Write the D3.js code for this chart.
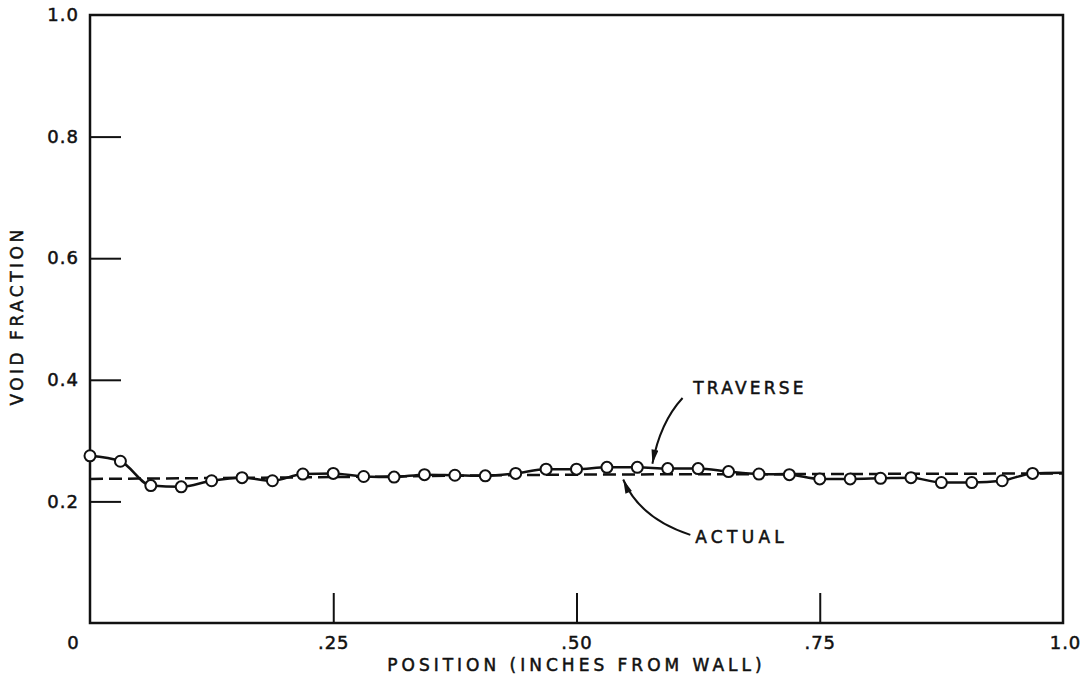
<!DOCTYPE html>
<html>
<head>
<meta charset="utf-8">
<script src="https://cdn.jsdelivr.net/npm/d3@7"></script>
<style>
  body { margin: 0; background: #fff; }
  svg { display: block; }
  .lbl { font-family: "DejaVu Sans", sans-serif; fill: #111; stroke: #111; stroke-width: 0.5; }
</style>
</head>
<body>
<svg id="chart" width="1085" height="690"></svg>
<script>
// Traverse measurements, every 1/32 inch from the wall
const traverseX = d3.range(32).map(i => i / 32);
const traverseY = [0.275, 0.266, 0.226, 0.224, 0.234, 0.239, 0.234, 0.245,
                   0.246, 0.241, 0.240, 0.244, 0.243, 0.242, 0.246, 0.253,
                   0.253, 0.256, 0.256, 0.254, 0.254, 0.249, 0.245, 0.244,
                   0.237, 0.237, 0.238, 0.239, 0.231, 0.231, 0.234, 0.246];
// curve runs on to the far wall without a marker
const traverseEnd = { x: 1.0, y: 0.247 };

// Actual void fraction (dashed)
const actualX = [0, 0.25, 0.5, 0.75, 1.0];
const actualY = [0.237, 0.240, 0.244, 0.245, 0.246];

const xTicks = [0, 0.25, 0.5, 0.75, 1.0];
const xTickLabels = ["0", ".25", ".50", ".75", "1.0"];
const yTicks = [0.2, 0.4, 0.6, 0.8, 1.0];
const yTickLabels = ["0.2", "0.4", "0.6", "0.8", "1.0"];

const config = {
    width: 1085, height: 690,
    margin: { top: 15, right: 22, bottom: 67, left: 90 }
};

const svg = d3.select("#chart");
const width = config.width - config.margin.left - config.margin.right;
const height = config.height - config.margin.top - config.margin.bottom;
const g = svg.append("g")
    .attr("transform", `translate(${config.margin.left},${config.margin.top})`);

const x = d3.scaleLinear().domain([0, 1]).range([0, width]);
const y = d3.scaleLinear().domain([0, 1]).range([height, 0]);

// frame
g.append("rect")
    .attr("width", width).attr("height", height)
    .attr("fill", "none").attr("stroke", "#111").attr("stroke-width", 2.5);

// x axis: inward ticks, labels below
const xAxis = g.append("g")
    .attr("transform", `translate(0,${height})`)
    .call(d3.axisBottom(x).tickValues(xTicks)
        .tickFormat((d, i) => xTickLabels[i])
        .tickSizeInner(-30).tickSizeOuter(0).tickPadding(13));
xAxis.select(".domain").remove();
xAxis.selectAll(".tick line")
    .attr("stroke", "#111").attr("stroke-width", 2)
    .attr("display", d => (d === 0 || d === 1) ? "none" : null);
xAxis.selectAll(".tick text")
    .attr("class", "lbl").attr("font-size", 18).attr("letter-spacing", 1)
    .attr("dx", d => d === 0 ? -17 : (d === 1 ? 2 : 0));

// y axis: inward ticks, labels left
const yAxis = g.append("g")
    .call(d3.axisLeft(y).tickValues(yTicks)
        .tickFormat((d, i) => yTickLabels[i])
        .tickSizeInner(-31).tickSizeOuter(0));
yAxis.select(".domain").remove();
yAxis.selectAll(".tick line")
    .attr("stroke", "#111").attr("stroke-width", 2)
    .attr("display", d => d === 1 ? "none" : null);
yAxis.selectAll(".tick text")
    .attr("class", "lbl").attr("font-size", 18).attr("letter-spacing", 1)
    .attr("x", -11);

// axis titles
g.append("text")
    .attr("class", "lbl")
    .attr("transform", `translate(${-67},${y(0.505)}) rotate(-90)`)
    .attr("text-anchor", "middle")
    .attr("font-size", 17).attr("letter-spacing", 3.5)
    .text("VOID FRACTION");

g.append("text")
    .attr("class", "lbl")
    .attr("x", x(0.5)).attr("y", height + 48)
    .attr("text-anchor", "middle")
    .attr("font-size", 17).attr("letter-spacing", 4)
    .text("POSITION (INCHES FROM WALL)");

// actual (dashed)
const actual = actualX.map((v, i) => ({ x: v, y: actualY[i] }));
g.append("path")
    .datum(actual)
    .attr("fill", "none").attr("stroke", "#111")
    .attr("stroke-width", 2.5).attr("stroke-dasharray", "13,6")
    .attr("d", d3.line().x(d => x(d.x)).y(d => y(d.y)).curve(d3.curveMonotoneX));

// traverse curve
const traverse = traverseX.map((v, i) => ({ x: v, y: traverseY[i] }));
g.append("path")
    .datum([...traverse, traverseEnd])
    .attr("fill", "none").attr("stroke", "#111").attr("stroke-width", 2.5)
    .attr("d", d3.line().x(d => x(d.x)).y(d => y(d.y)).curve(d3.curveMonotoneX));

g.selectAll("circle.pt")
    .data(traverse)
    .join("circle")
    .attr("class", "pt")
    .attr("cx", d => x(d.x)).attr("cy", d => y(d.y))
    .attr("r", 5.5)
    .attr("fill", "#fff").attr("stroke", "#111").attr("stroke-width", 2);

// annotation arrows
svg.append("defs").append("marker")
    .attr("id", "head")
    .attr("viewBox", "0 0 12 6")
    .attr("refX", 12).attr("refY", 3)
    .attr("markerWidth", 15).attr("markerHeight", 7)
    .attr("markerUnits", "userSpaceOnUse")
    .attr("orient", "auto")
    .append("path").attr("d", "M0,0 L12,3 L0,6 Z").attr("fill", "#111");

const annotations = [
    { text: "TRAVERSE", spacing: 3.2, lx: 0.620, ly: 0.387, from: [0.609, 0.370], ctrl: [0.586, 0.330], to: [0.578, 0.262] },
    { text: "ACTUAL",   spacing: 4.3, lx: 0.622, ly: 0.142, from: [0.617, 0.145], ctrl: [0.565, 0.172], to: [0.548, 0.236] }
];

annotations.forEach(a => {
    g.append("path")
        .attr("fill", "none").attr("stroke", "#111").attr("stroke-width", 2)
        .attr("marker-end", "url(#head)")
        .attr("d", `M${x(a.from[0])},${y(a.from[1])} Q${x(a.ctrl[0])},${y(a.ctrl[1])} ${x(a.to[0])},${y(a.to[1])}`);
    g.append("text")
        .attr("class", "lbl")
        .attr("x", x(a.lx)).attr("y", y(a.ly))
        .attr("dy", "0.35em")
        .attr("font-size", 17).attr("letter-spacing", a.spacing)
        .text(a.text);
});
</script>
</body>
</html>
